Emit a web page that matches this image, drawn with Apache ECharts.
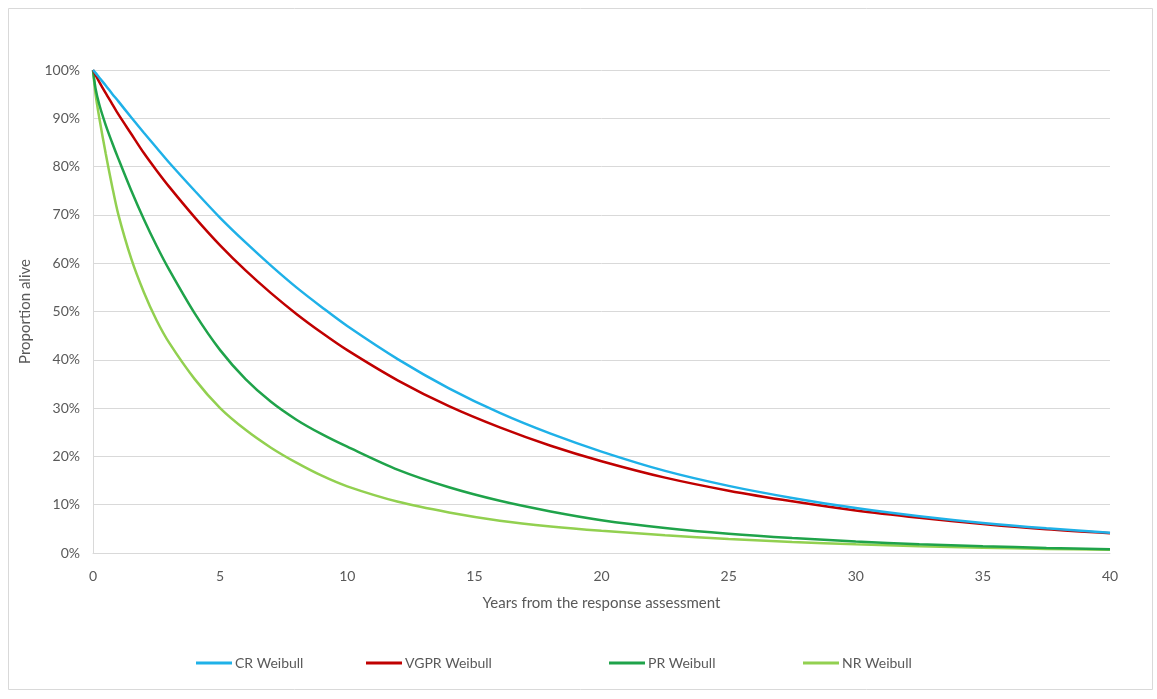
<!DOCTYPE html>
<html>
<head>
<meta charset="utf-8">
<title>Proportion alive by response</title>
<script src="https://cdn.jsdelivr.net/npm/echarts@6/dist/echarts.min.js"></script>
<style>
  html, body { margin: 0; padding: 0; background: #ffffff; }
  #chart { width: 1157px; height: 699px; }
</style>
</head>
<body>
<div id="chart"></div>
<script>
// Years since the response assessment (shared x values for every curve)
const years = [0, 0.1, 0.25, 0.5, 0.75, 1, 1.5, 2, 2.5, 3, 4, 5, 6, 7, 8, 9, 10,
               12, 14, 16, 18, 20, 22.5, 25, 27.5, 30, 32.5, 35, 37.5, 40];

// Proportion alive for each fitted Weibull curve
const crWeibull = [1, 0.994, 0.984, 0.968, 0.951, 0.935, 0.902, 0.870, 0.839, 0.808, 0.750, 0.694,
                   0.643, 0.595, 0.550, 0.509, 0.470, 0.401, 0.341, 0.290, 0.247, 0.210, 0.170,
                   0.139, 0.114, 0.093, 0.076, 0.062, 0.051, 0.042];
const vgprWeibull = [1, 0.990, 0.975, 0.952, 0.930, 0.908, 0.868, 0.828, 0.792, 0.758, 0.695, 0.637,
                     0.585, 0.538, 0.495, 0.456, 0.420, 0.357, 0.304, 0.260, 0.222, 0.190, 0.156,
                     0.129, 0.107, 0.088, 0.073, 0.060, 0.049, 0.041];
const prWeibull = [1, 0.962, 0.928, 0.886, 0.850, 0.816, 0.751, 0.691, 0.636, 0.586, 0.496, 0.420,
                   0.360, 0.313, 0.276, 0.246, 0.220, 0.172, 0.136, 0.108, 0.086, 0.068, 0.052,
                   0.040, 0.031, 0.024, 0.018, 0.014, 0.0105, 0.008];
const nrWeibull = [1, 0.950, 0.900, 0.827, 0.760, 0.700, 0.610, 0.540, 0.482, 0.435, 0.360, 0.300,
                   0.255, 0.218, 0.187, 0.160, 0.138, 0.106, 0.084, 0.067, 0.055, 0.046, 0.037,
                   0.029, 0.023, 0.018, 0.014, 0.011, 0.0085, 0.0068];

const seriesNames = ['CR Weibull', 'VGPR Weibull', 'PR Weibull', 'NR Weibull'];
const seriesColors = ['#1fb1e8', '#c00000', '#1fa34a', '#92d050'];
const seriesValues = [crWeibull, vgprWeibull, prWeibull, nrWeibull];

// Axis settings
const xTicks = { min: 0, max: 40, interval: 5 };
const yTicks = { min: 0, max: 1, interval: 0.1 };
const xTitle = 'Years from the response assessment';
const yTitle = 'Proportion alive';

const FONT = 'Lato, "Open Sans", sans-serif';
const TEXT = '#595959';
const GRID_LINE = '#d9d9d9';

const pairs = vals => years.map((x, i) => [x, vals[i]]);

const legendLefts = [191, 361, 604, 798];

const option = {
  animation: false,
  backgroundColor: '#ffffff',
  textStyle: { fontFamily: FONT },
  graphic: [{
    type: 'rect',
    shape: { x: 8.5, y: 8.5, width: 1144, height: 681 },
    style: { fill: 'none', stroke: GRID_LINE, lineWidth: 1 },
    silent: true
  }],
  grid: { left: 93, right: 47, top: 70, bottom: 146, containLabel: false },
  legend: seriesNames.map((name, i) => ({
    data: [name],
    left: legendLefts[i],
    top: 651,
    icon: 'rect',
    itemWidth: 36,
    itemHeight: 3,
    itemGap: 0,
    textStyle: { color: TEXT, fontSize: 14, fontFamily: FONT, padding: [0, 0, 0, -2] }
  })),
  xAxis: {
    type: 'value',
    min: xTicks.min, max: xTicks.max, interval: xTicks.interval,
    name: xTitle,
    nameLocation: 'middle',
    nameGap: 43,
    nameTextStyle: { color: TEXT, fontSize: 15, fontFamily: FONT },
    axisLine: { show: true, lineStyle: { color: GRID_LINE, width: 1 } },
    axisTick: { show: false },
    axisLabel: { color: TEXT, fontSize: 14, margin: 16, fontFamily: FONT },
    splitLine: { show: false }
  },
  yAxis: {
    type: 'value',
    min: yTicks.min, max: yTicks.max, interval: yTicks.interval,
    name: yTitle,
    nameLocation: 'middle',
    nameGap: 60,
    nameRotate: 90,
    nameTextStyle: { color: TEXT, fontSize: 15, fontFamily: FONT },
    axisLine: { show: true, lineStyle: { color: GRID_LINE, width: 1 } },
    axisTick: { show: false },
    axisLabel: {
      color: TEXT, fontSize: 14, margin: 13, fontFamily: FONT,
      formatter: v => Math.round(v * 100) + '%'
    },
    splitLine: { show: true, lineStyle: { color: GRID_LINE, width: 1 } }
  },
  series: seriesNames.map((name, i) => ({
    name: name,
    type: 'line',
    data: pairs(seriesValues[i]),
    smooth: 0.3,
    showSymbol: false,
    symbol: 'none',
    color: seriesColors[i],
    lineStyle: { color: seriesColors[i], width: 2.5 },
    z: 10 - i
  }))
};

echarts.init(document.getElementById('chart'), null, { renderer: 'canvas' }).setOption(option);
</script>
</body>
</html>
